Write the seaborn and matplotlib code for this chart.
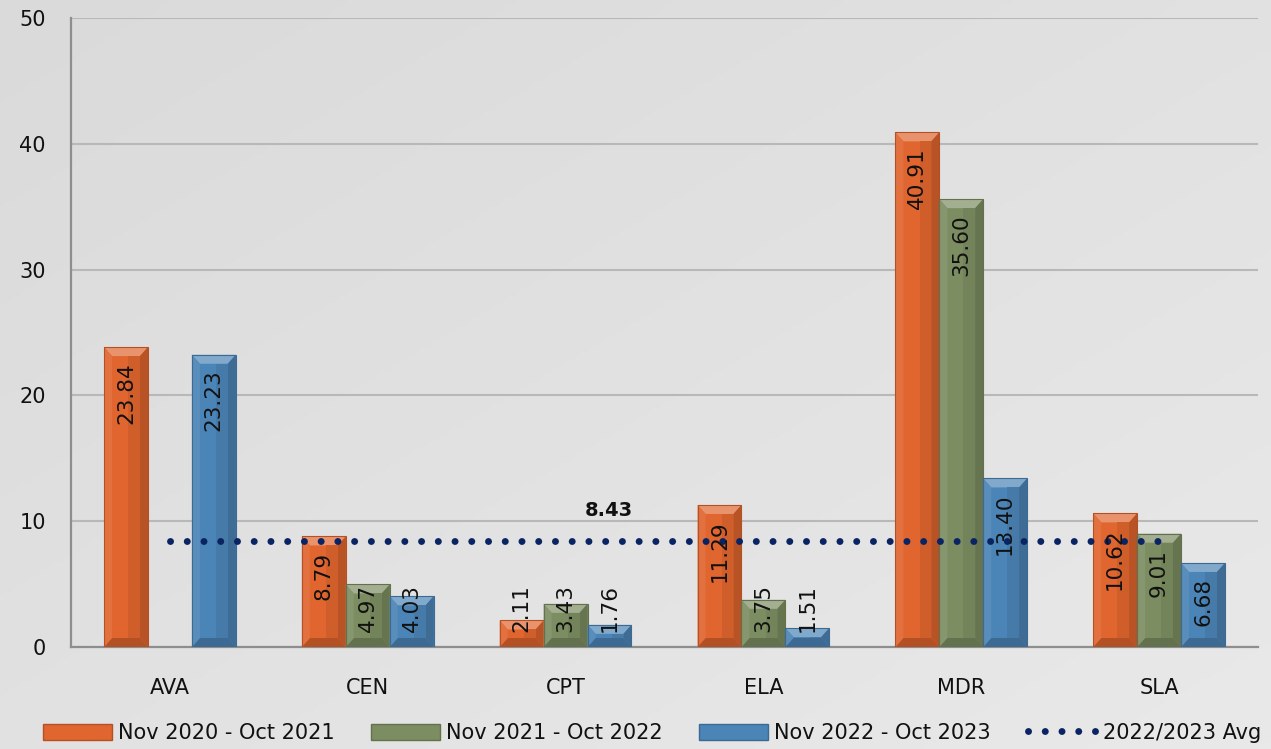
import numpy as np
import pandas as pd
import seaborn as sns
import matplotlib.pyplot as plt
import matplotlib.colors as mcolors
from matplotlib.patches import Polygon, Patch
from matplotlib.lines import Line2D


# data
regions = ['AVA', 'CEN', 'CPT', 'ELA', 'MDR', 'SLA']
periods = ['Nov 2020 - Oct 2021', 'Nov 2021 - Oct 2022', 'Nov 2022 - Oct 2023']
vals_2021 = [23.84, 8.79, 2.11, 11.29, 40.91, 10.62]
vals_2022 = [np.nan, 4.97, 3.43, 3.75, 35.60, 9.01]
vals_2023 = [23.23, 4.03, 1.76, 1.51, 13.40, 6.68]
avg_value = 8.43
avg_name = '2022/2023 Avg'
yticks = [0, 10, 20, 30, 40, 50]

colors = ['#E0652E', '#7C8D61', '#4B84B6']
navy = '#0A2463'

df = pd.DataFrame({
    'region': regions * 3,
    'period': np.repeat(periods, len(regions)),
    'value': vals_2021 + vals_2022 + vals_2023,
})

sns.set_theme(style='white')
plt.rcParams['font.family'] = ['DejaVu Sans']

W, H = 1271, 749
fig = plt.figure(figsize=(W / 100, H / 100), dpi=100)

# soft diagonal background
bg = fig.add_axes([0, 0, 1, 1], zorder=-10)
g = np.add.outer(np.linspace(0, 1, 200), np.linspace(0, 1, 300)) / 2
bg_cmap = mcolors.LinearSegmentedColormap.from_list('bg', ['#dadada', '#e9e9e9'])
bg.imshow(g, cmap=bg_cmap, aspect='auto', extent=[0, 1, 0, 1])
bg.axis('off')

ax_l, ax_b, ax_w, ax_h = 71, 102, 1187, 629
ax = fig.add_axes([ax_l / W, ax_b / H, ax_w / W, ax_h / H])
ax.patch.set_alpha(0)

sns.barplot(data=df, x='region', y='value', hue='period', hue_order=periods,
            palette=colors, saturation=1, width=0.666, linewidth=0,
            legend=False, ax=ax, zorder=3)

ax.set_xlim(-0.5, 5.5)
ax.set_ylim(0, 50)
ax.set_yticks(yticks)
ax.set_xlabel('')
ax.set_ylabel('')
ax.grid(axis='y', color='#b8b8b8', lw=1.5, zorder=0)
ax.set_axisbelow(True)
for s in ['top', 'right']:
    ax.spines[s].set_visible(False)
for s in ['left', 'bottom']:
    ax.spines[s].set_color('#8e8e8e')
    ax.spines[s].set_linewidth(1.6)
ax.tick_params(axis='y', length=0, pad=18, labelsize=15, labelcolor='#111111')
ax.tick_params(axis='x', length=0, pad=22, labelsize=15, labelcolor='#111111')

# pixel -> data helpers
px_x = 6 / ax_w
px_y = 50 / ax_h
lab_size = 15.5


def shade(c, amt):
    c = np.array(mcolors.to_rgb(c))
    if amt > 0:
        return tuple(c + (1 - c) * amt)
    return tuple(c * (1 + amt))


# bevel look and labels
for p in list(ax.patches):
    h = p.get_height()
    if np.isnan(h) or h <= 0:
        continue
    x, w = p.get_x(), p.get_width()
    c = p.get_facecolor()
    ix = min(8 * px_x, w / 2)
    iy = min(9 * px_y, h / 2)
    top = h
    faces = [
        ([(x, top), (x + w, top), (x + w - ix, top - iy), (x + ix, top - iy)], 0.30),
        ([(x, 0), (x + w, 0), (x + w - ix, iy), (x + ix, iy)], -0.20),
        ([(x, 0), (x, top), (x + ix, top - iy), (x + ix, iy)], 0.08),
        ([(x + w, 0), (x + w, top), (x + w - ix, top - iy), (x + w - ix, iy)], -0.18),
        ([(x + w * 0.55, iy), (x + w * 0.55, top - iy), (x + w - ix, top - iy), (x + w - ix, iy)], -0.07),
    ]
    for pts, amt in faces:
        ax.add_patch(Polygon(pts, closed=True, facecolor=shade(c, amt),
                             edgecolor='none', zorder=3.5))
    ax.add_patch(Polygon([(x, 0), (x, top), (x + w, top), (x + w, 0)], closed=True,
                         fill=False, edgecolor=shade(c, -0.2), lw=0.8, zorder=3.6))

    txt = f'{h:.2f}'
    text_len = (len(txt) - 1) * 0.636 + 0.318
    text_len = text_len * lab_size * 100 / 72 * px_y
    xc = x + w / 2
    if h - 15 * px_y - text_len < 15 * px_y:
        ax.text(xc, 15 * px_y, txt, rotation=90, ha='center', va='bottom',
                fontsize=lab_size, color='#111111', zorder=6)
    else:
        ax.text(xc, h - 15 * px_y, txt, rotation=90, ha='center', va='top',
                fontsize=lab_size, color='#111111', zorder=6)

# average line
dots = (0, (0.01, 2.4))
ax.plot([0, len(regions) - 1], [avg_value, avg_value], color=navy, lw=5,
        linestyle=dots, dash_capstyle='round', zorder=5)
ax.text(2.22, avg_value + 2.4, f'{avg_value:.2f}', ha='center', va='center',
        fontsize=14, fontweight='bold', color='#111111', zorder=6)

# legend
handles = [Patch(facecolor=c, edgecolor=shade(c, -0.2)) for c in colors]
handles.append(Line2D([0], [0], color=navy, lw=5, linestyle=dots,
                      dash_capstyle='round'))
leg = fig.legend(handles, periods + [avg_name], loc='center', ncol=4,
                 bbox_to_anchor=(0.513, 16 / H), frameon=False,
                 prop={'family': ['DejaVu Sans'], 'size': 15},
                 labelcolor='#111111',
                 handlelength=3.3, handleheight=0.8, handletextpad=0.3,
                 columnspacing=1.75, borderaxespad=0)

fig.savefig('out.png', dpi=100)
